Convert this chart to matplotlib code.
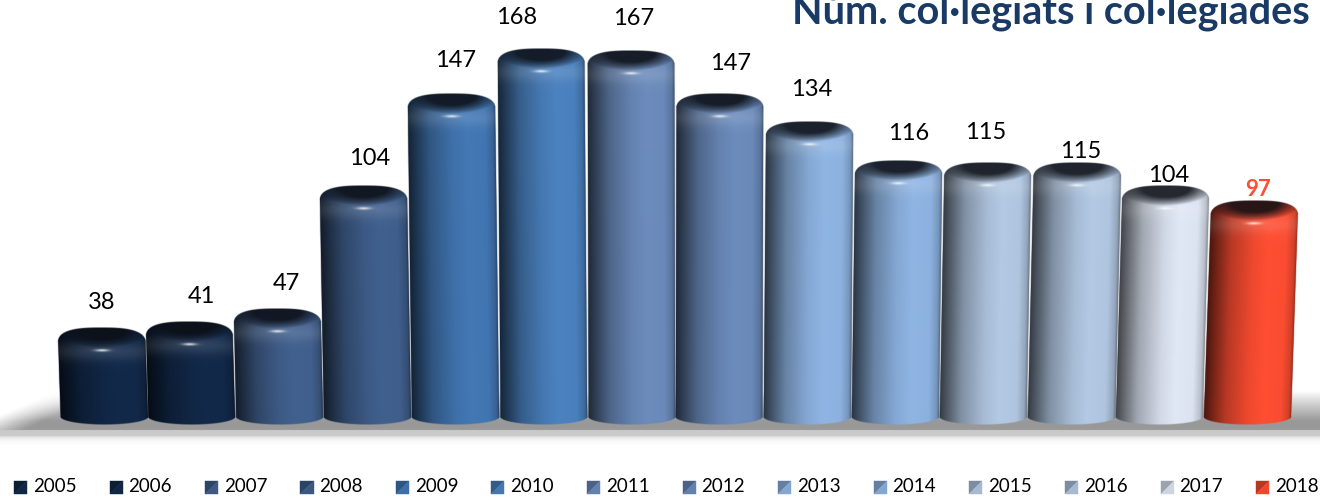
import numpy as np
import matplotlib
matplotlib.use('Agg')
import matplotlib.pyplot as plt
from matplotlib.patches import Polygon
from matplotlib.legend_handler import HandlerBase
from matplotlib.transforms import Affine2D
from matplotlib.lines import Line2D

plt.rcParams['font.family'] = ['Lato', 'DejaVu Sans']

years = ['2005', '2006', '2007', '2008', '2009', '2010', '2011',
         '2012', '2013', '2014', '2015', '2016', '2017', '2018']
values = [38, 41, 47, 104, 147, 168, 167, 147, 134, 116, 115, 115, 104, 97]
title = 'Núm. col·legiats i col·legiades'

colors = ['#12294a', '#12294a', '#42618f', '#40608e', '#4378b5', '#4b82c0', '#6c8cbd',
          '#6c8cbd', '#8fb5e4', '#8fb5e4', '#b3c9e4', '#b3c9e4', '#e0e8f6', '#ff4e32']
# per-label nudges in pixels, the labels are placed by hand in the original
label_dx = [-2, 10, 7, 2, 0, -27, 2, 11, 4, 13, 2, 9, 9, 11]
label_dy = [25, 25, 25, 27, 33, 31, 32, 30, 32, 27, 30, 11, 10, 11]

PX_X = 88.0    # pixels per bar
PX_Y = 2.15    # pixels per unit
X0 = 103.5     # pixel of first bar centre
Y0 = 409.5     # pixel of value 0
BOTTOM = 15.5  # bar foot below value 0, in pixels
LEAN = 0.000126


def hex_rgb(c):
    return np.array(matplotlib.colors.to_rgb(c))


def bar_image(value, color):
    # shaded cylinder as rgba array, 1 row/col per half pixel
    base = hex_rgb(color)
    height = value * PX_Y + BOTTOM
    w, h = 180, int(height * 2)
    u = np.linspace(-1, 1, w)[None, :]
    y = np.linspace(0, height, h)[:, None]  # pixels down from bar top

    top_edge = 17 * (1 - (1 - np.abs(u) ** 2.8) ** (1 / 2.8))
    foot = height - 8 * (1 - np.sqrt(1 - u ** 2))
    alpha = np.clip((y - top_edge) * 2, 0, 1) * np.clip((foot - y) * 2, 0, 1)
    alpha = alpha * np.clip((1 - np.abs(u)) * 90, 0, 1)

    # light sits right of centre, edges go dark
    side = np.interp(u, [-1, -0.85, -0.5, 0.0, 0.35, 0.75, 0.93, 1],
                     [0.28, 0.42, 0.72, 0.93, 1.0, 0.98, 0.82, 0.55])
    rgb = base[None, None, :] * side[:, :, None]

    # rim of the top
    rim = np.exp(-((y - 24) / 9.0) ** 2) * (1 - 0.4 * np.abs(u) ** 2)
    rgb = rgb + (1 - rgb) * (rim * 0.13)[:, :, None]

    # dark cap reaches the top edge and fades out downwards and to the sides
    d = np.sqrt((u / 1.05) ** 2 + ((y - 3) / 17.0) ** 2)
    cap = np.clip((1.02 - d) / 0.5, 0, 1) ** 0.8
    dark = base * 0.12 + np.array([0.04, 0.05, 0.07])
    rgb = rgb * (1 - cap[:, :, None]) + dark[None, None, :] * cap[:, :, None]

    # small highlight under the cap
    glow = np.exp(-(u / 0.16) ** 2 - ((y - 23) / 1.3) ** 2) * 0.8
    rgb = rgb + (1 - rgb) * glow[:, :, None]

    return np.dstack([np.clip(rgb, 0, 1), alpha])


def floor_image():
    w, h = 660, 120
    x = np.linspace(0, 1320, w)[None, :]
    y = np.linspace(385, 445, h)[:, None]
    fade_top = np.clip((y - 391) / 30, 0, 1) ** 0.9
    band = 1 - 0.40 * fade_top
    strip = np.where(y > 430, 0.79, band)
    strip = np.where(y > 436, 1 - 0.17 * np.exp(-(y - 436) / 3.0), strip)
    # left end of the shadow runs out on a slant
    edge = np.clip((x + (y - 415) * 2.2) / 55, 0, 1)
    return np.where(y < 430, 1 - (1 - strip) * edge, strip)


class PyramidHandler(HandlerBase):
    def create_artists(self, legend, orig, xd, yd, width, height, fontsize, trans):
        c = hex_rgb(orig.get_color())
        x0, y0 = -xd, -yd - 0.10 * height
        s = width
        upper = [(x0, y0), (x0, y0 + s), (x0 + s, y0 + s)]
        lower = [(x0, y0), (x0 + s, y0), (x0 + s, y0 + s)]
        return [Polygon(upper, closed=True, facecolor=c * 0.7, edgecolor=c * 0.7,
                        linewidth=0.3, transform=trans),
                Polygon(lower, closed=True, facecolor=c * 0.92, edgecolor=c * 0.92,
                        linewidth=0.3, transform=trans)]


fig = plt.figure(figsize=(13.2, 5), dpi=100)
ax = fig.add_axes([0, 0, 1, 1])
ax.axis('off')

xlim = (-X0 / PX_X, (1320 - X0) / PX_X)
ylim = ((Y0 - 500) / PX_Y, Y0 / PX_Y)

ax.imshow(floor_image(), cmap='gray', vmin=0, vmax=1, aspect='auto',
          extent=(0, 1, 55 / 500, 115 / 500), transform=ax.transAxes, zorder=1)

for i, (v, c) in enumerate(zip(values, colors)):
    skew = LEAN * (i - 6.5)
    tr = Affine2D.from_values(1, 0, skew, 1, 0, 0) + ax.transData
    ax.imshow(bar_image(v, c), extent=(i - 0.5, i + 0.5, -BOTTOM / PX_Y, v),
              aspect='auto', interpolation='bilinear', transform=tr, zorder=2 + i * 0.01)

for i, v in enumerate(values):
    last = i == len(values) - 1
    ax.annotate(str(v), (i, v), xytext=(label_dx[i] * 0.72, label_dy[i] * 0.72),
                textcoords='offset points', ha='center', va='center',
                fontsize=16 if last else 17, fontweight='bold' if last else 'normal',
                color='#ff4e32' if last else 'black', zorder=5)

ax.text(1310 / 1320, 1 - 12 / 500, title, transform=ax.transAxes, ha='right', va='center',
        fontsize=28.5, fontweight='bold', color='#1a3a66', zorder=5)

handles = [Line2D([], [], color=c) for c in colors]
leg = ax.legend(handles, years, handler_map={Line2D: PyramidHandler()}, ncol=14,
                loc='center left', bbox_to_anchor=(14 / 1320, 1 - 487 / 500), frameon=False,
                fontsize=13.5, handlelength=0.7, handleheight=0.7, handletextpad=0.3,
                columnspacing=1.77, borderpad=0, borderaxespad=0)

ax.set_xlim(xlim)
ax.set_ylim(ylim)
fig.savefig('out.png', dpi=100)
